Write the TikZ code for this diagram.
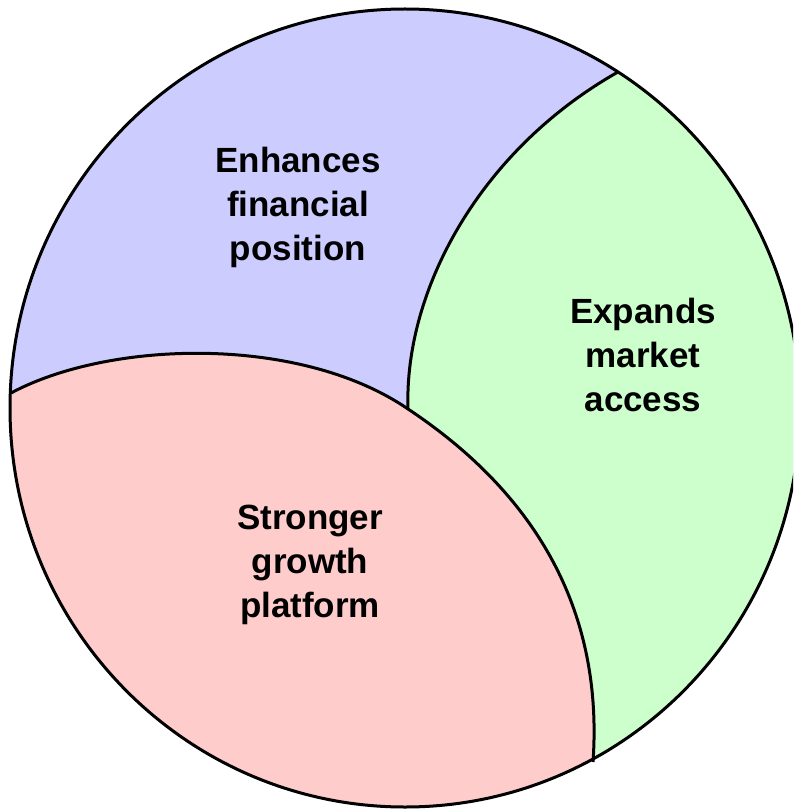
\documentclass[tikz,border=0pt]{standalone}
\usepackage{fontspec}
\setmainfont{Liberation Sans}
\definecolor{finblue}{RGB}{204,204,255}
\definecolor{mktgreen}{RGB}{204,255,204}
\definecolor{growred}{RGB}{255,204,204}
\begin{document}
\begin{tikzpicture}[x=1pt,y=-1pt,
  txt/.style={font=\bfseries\fontsize{35}{44}\selectfont, align=center, text=black, inner sep=0pt},
  edge/.style={line width=3pt, draw=black},
  outline/.style={line width=3pt, draw=black}]
\useasboundingbox (0,0) rectangle (793,810);
\clip (0,0) rectangle (793,810);
% key points of the partition
\coordinate (O) at (405,408);
\coordinate (L) at (11,393);
\coordinate (C) at (408,409);
\coordinate (T) at (618,72);
\coordinate (B) at (593,762);
\begin{scope}
  \clip (O) ellipse [x radius=395, y radius=399];
  \fill[finblue] (O) ellipse [x radius=395, y radius=399];
  % right region
  \fill[mktgreen] (T) .. controls (480,150) and (404,290) .. (C)
    .. controls (515,480) and (605,590) .. (B)
    -- (620,900) -- (900,900) -- (900,-100) -- (640,-100) -- cycle;
  % lower region
  \fill[growred] (L) .. controls (110,340) and (300,335) .. (C)
    .. controls (515,480) and (605,590) .. (B)
    -- (560,900) -- (-100,900) -- (-100,393) -- cycle;
\end{scope}
% dividing curves
\draw[edge] (T) .. controls (480,150) and (404,290) .. (C);
\draw[edge] (L) .. controls (110,340) and (300,335) .. (C)
  .. controls (515,480) and (605,590) .. (B);
% outer boundary
\draw[outline] (O) ellipse [x radius=395, y radius=399];
% labels
\node[txt] (fin) at (298,207) {Enhances\\financial\\position};
\node[txt] (mkt) at (643,355) {Expands\\market\\access};
\node[txt] (grow) at (310,565) {Stronger\\growth\\platform};
\end{tikzpicture}
\end{document}
